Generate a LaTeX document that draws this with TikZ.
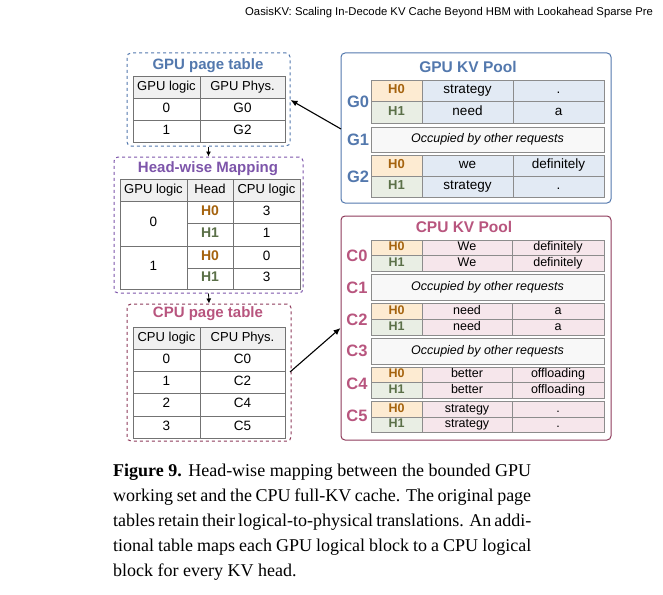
\documentclass[tikz,border=0pt]{standalone}
\usepackage{fontspec}
\usetikzlibrary{arrows.meta}
\setmainfont{Liberation Serif}
\newfontfamily\sff{Liberation Sans}
\begin{document}
\definecolor{gblue}{HTML}{5378AD}
\definecolor{hpurp}{HTML}{7D55AA}
\definecolor{cred}{HTML}{B8557E}
\definecolor{cbord}{HTML}{8E3A5A}
\definecolor{hzf}{HTML}{FDEBD2}
\definecolor{hzt}{HTML}{A5630E}
\definecolor{hof}{HTML}{E9EEE4}
\definecolor{hot}{HTML}{5B7048}
\definecolor{gfill}{HTML}{E2EAF4}
\definecolor{cfill}{HTML}{F6E6EB}
\definecolor{ofill}{HTML}{F8F8F8}
\definecolor{hfill}{HTML}{F0F0F0}
\newcommand{\cellx}[7]{\node[cell,#6,minimum width={(#4-#2)*1pt},minimum height={(#5-#3)*1pt}] (#1) at ({(#2+#4)/2},{(#3+#5)/2}) {#7};}
\begin{tikzpicture}[x=1pt,y=-1pt,
  cell/.style={draw=black!45,line width=0.7pt,inner sep=0pt,text height=9pt,text depth=2.5pt,font=\sff\fontsize{13.5}{13}\selectfont},
  tcell/.style={draw=black!55,line width=0.7pt,fill=white},
  th/.style={tcell,fill=hfill,font=\sff\fontsize{13}{13}\selectfont},
  zero/.style={fill=hzf,text=hzt,font=\sff\bfseries\fontsize{13}{13}\selectfont},
  one/.style={fill=hof,text=hot,font=\sff\bfseries\fontsize{13}{13}\selectfont},
  gc/.style={fill=gfill},
  cc/.style={fill=cfill},
  occ/.style={fill=ofill,font=\sff\itshape\fontsize{12.5}{13}\selectfont},
  box/.style={rounded corners=4pt,line width=1pt},
  ttl/.style={font=\sff\bfseries\fontsize{15}{15}\selectfont},
  lbl/.style={font=\sff\bfseries\fontsize{16.5}{16}\selectfont},
  arr/.style={-{Latex[length=7pt,width=6pt]},line width=1.1pt}]
\useasboundingbox (0,0) rectangle (663,594);
\node[anchor=base west,font=\sff\fontsize{11.3}{12}\selectfont,inner sep=0] (hdr) at (245,16) {OasisKV: Scaling In-Decode KV Cache Beyond HBM with Lookahead Sparse Pre};
% GPU page table
\node[box,draw=gblue,dashed,minimum width=163pt,minimum height=93pt] (gpt) at (208.5,99.5) {};
\node[ttl,text=gblue] (gptt) at (208,66) {GPU page table};
\cellx{g11}{133}{76}{200}{98}{th}{GPU logic}
\cellx{g12}{200}{76}{285}{98}{th}{GPU Phys.}
\cellx{g21}{133}{98}{200}{120}{tcell}{0}
\cellx{g22}{200}{98}{285}{120}{tcell}{G0}
\cellx{g31}{133}{120}{200}{142}{tcell}{1}
\cellx{g32}{200}{120}{285}{142}{tcell}{G2}
% Head-wise
\node[box,draw=hpurp,dashed,minimum width=189pt,minimum height=136pt] (hw) at (208.5,225) {};
\node[ttl,text=hpurp] (hwt) at (208,169) {Head-wise Mapping};
\cellx{h01}{120}{179}{187}{201}{th}{GPU logic}
\cellx{h02}{187}{179}{233}{201}{th}{Head}
\cellx{h03}{233}{179}{300}{201}{th}{CPU logic}
\cellx{h11}{120}{201}{187}{246}{tcell}{0}
\cellx{h12}{187}{201}{233}{223}{tcell,text=hzt,font=\sff\bfseries\fontsize{14}{13}\selectfont}{H0}
\cellx{h13}{233}{201}{300}{223}{tcell}{3}
\cellx{h22}{187}{223}{233}{246}{tcell,text=hot,font=\sff\bfseries\fontsize{14}{13}\selectfont}{H1}
\cellx{h23}{233}{223}{300}{246}{tcell}{1}
\cellx{h31}{120}{246}{187}{289}{tcell}{1}
\cellx{h32}{187}{246}{233}{268}{tcell,text=hzt,font=\sff\bfseries\fontsize{14}{13}\selectfont}{H0}
\cellx{h33}{233}{246}{300}{268}{tcell}{0}
\cellx{h42}{187}{268}{233}{289}{tcell,text=hot,font=\sff\bfseries\fontsize{14}{13}\selectfont}{H1}
\cellx{h43}{233}{268}{300}{289}{tcell}{3}
% CPU page table
\node[box,draw=cbord,dashed,minimum width=164pt,minimum height=137pt] (cpt) at (209,372.5) {};
\node[ttl,text=cred] (cptt) at (208,314) {CPU page table};
\cellx{c01}{133}{327}{200}{349}{th}{CPU logic}
\cellx{c02}{200}{327}{285}{349}{th}{CPU Phys.}
\cellx{c11}{133}{349}{200}{371}{tcell}{0}
\cellx{c12}{200}{349}{285}{371}{tcell}{C0}
\cellx{c21}{133}{371}{200}{393}{tcell}{1}
\cellx{c22}{200}{371}{285}{393}{tcell}{C2}
\cellx{c31}{133}{393}{200}{416}{tcell}{2}
\cellx{c32}{200}{393}{285}{416}{tcell}{C4}
\cellx{c41}{133}{416}{200}{438}{tcell}{3}
\cellx{c42}{200}{416}{285}{438}{tcell}{C5}
\draw[arr,line width=0.8pt,-{Latex[length=5pt,width=5pt]}] (gpt.south) -- (hw.north);
\draw[arr,line width=0.8pt,-{Latex[length=5pt,width=5pt]}] (hw.south) -- (cpt.north);
% GPU KV pool
\node[box,draw=gblue,minimum width=270pt,minimum height=150pt] (gkv) at (476,128) {};
\node[ttl,text=gblue,font=\sff\bfseries\fontsize{15.5}{15}\selectfont] (gkvt) at (468,67) {GPU KV Pool};
\node[lbl,text=gblue] (lg0) at (358,102) {G0};
\node[lbl,text=gblue] (lg1) at (358,140) {G1};
\node[lbl,text=gblue] (lg2) at (358,177) {G2};
\cellx{a1}{371}{80}{422}{101}{zero}{H0}
\cellx{a2}{422}{80}{513}{101}{gc}{strategy}
\cellx{a3}{513}{80}{604}{101}{gc}{.}
\cellx{a4}{371}{101}{422}{123}{one}{H1}
\cellx{a5}{422}{101}{513}{123}{gc}{need}
\cellx{a6}{513}{101}{604}{123}{gc}{a}
\cellx{a7}{371}{127}{604}{152}{occ}{Occupied by other requests}
\cellx{a8}{371}{155}{422}{176}{zero}{H0}
\cellx{a9}{422}{155}{513}{176}{gc}{we}
\cellx{a10}{513}{155}{604}{176}{gc}{definitely}
\cellx{a11}{371}{176}{422}{197}{one}{H1}
\cellx{a12}{422}{176}{513}{197}{gc}{strategy}
\cellx{a13}{513}{176}{604}{197}{gc}{.}
% CPU KV pool
\node[box,draw=cbord,minimum width=270pt,minimum height=224pt] (ckv) at (476,328) {};
\node[ttl,text=cred,font=\sff\bfseries\fontsize{15.5}{15}\selectfont] (ckvt) at (464,227) {CPU KV Pool};
\tikzset{sm/.style={font=\sff\fontsize{12.5}{12}\selectfont,text height=8.5pt,text depth=2pt}}
\tikzset{smz/.style={font=\sff\bfseries\fontsize{12.5}{12}\selectfont,text height=8.5pt,text depth=2pt}}
\foreach \lab/\y in {C0/256,C1/288,C2/320,C3/351,C4/384,C5/416}
  \node[lbl,text=cred] (l\lab) at (357,\y) {\lab};
\cellx{b1}{371}{240}{422}{255}{zero,smz}{H0}
\cellx{b2}{422}{240}{512}{255}{cc,sm}{We}
\cellx{b3}{512}{240}{604}{255}{cc,sm}{definitely}
\cellx{b4}{371}{255}{422}{271}{one,smz}{H1}
\cellx{b5}{422}{255}{512}{271}{cc,sm}{We}
\cellx{b6}{512}{255}{604}{271}{cc,sm}{definitely}
\cellx{b7}{371}{274}{604}{300}{occ}{Occupied by other requests}
\cellx{b8}{371}{303}{422}{319}{zero,smz}{H0}
\cellx{b9}{422}{303}{512}{319}{cc,sm}{need}
\cellx{b10}{512}{303}{604}{319}{cc,sm}{a}
\cellx{b11}{371}{319}{422}{335}{one,smz}{H1}
\cellx{b12}{422}{319}{512}{335}{cc,sm}{need}
\cellx{b13}{512}{319}{604}{335}{cc,sm}{a}
\cellx{b14}{371}{338}{604}{364}{occ}{Occupied by other requests}
\cellx{b15}{371}{367}{422}{382}{zero,smz}{H0}
\cellx{b16}{422}{367}{512}{382}{cc,sm}{better}
\cellx{b17}{512}{367}{604}{382}{cc,sm}{offloading}
\cellx{b18}{371}{382}{422}{398}{one,smz}{H1}
\cellx{b19}{422}{382}{512}{398}{cc,sm}{better}
\cellx{b20}{512}{382}{604}{398}{cc,sm}{offloading}
\cellx{b21}{371}{401}{422}{417}{zero,smz}{H0}
\cellx{b22}{422}{401}{512}{417}{cc,sm}{strategy}
\cellx{b23}{512}{401}{604}{417}{cc,sm}{.}
\cellx{b24}{371}{417}{422}{432}{one,smz}{H1}
\cellx{b25}{422}{417}{512}{432}{cc,sm}{strategy}
\cellx{b26}{512}{417}{604}{432}{cc,sm}{.}
% arrows
\coordinate (gs) at (341,129);
\coordinate (cs) at (290,372);
\draw[arr] (gs) -- (gpt.east |- 0,100);
\draw[arr] (cs) -- (ckv.west |- 0,328);
% caption
\node[anchor=north west,text width=418pt,align=justify,inner sep=0,font=\fontsize{18}{25}\selectfont] (cap) at (113,464)
{\textbf{Figure 9.} Head-wise mapping between the bounded GPU\linebreak working set and the CPU full-KV cache. The original page\linebreak tables retain their logical-to-physical translations. An addi-\linebreak tional table maps each GPU logical block to a CPU logical\linebreak block for every KV head.};
\end{tikzpicture}
\end{document}
